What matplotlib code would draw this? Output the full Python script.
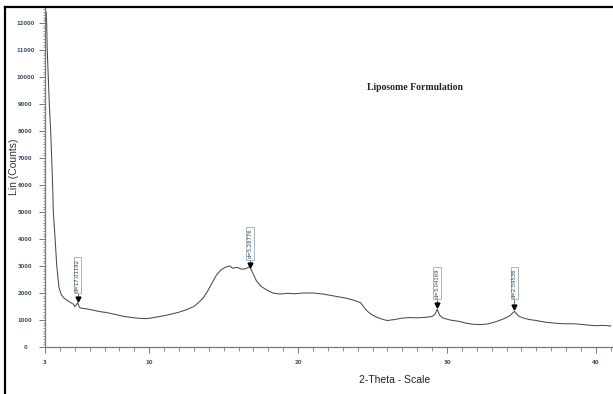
import matplotlib

matplotlib.use("Agg")
import matplotlib.pyplot as plt
import matplotlib.ticker as ticker
from matplotlib.lines import Line2D

# ===================== DATA =====================
two_theta = [
    3.08, 3.11, 3.15, 3.22, 3.29, 3.38, 3.45, 3.51, 3.56, 3.68, 3.79, 3.94,
    4.1, 4.3, 4.45, 4.7, 4.9, 5.0, 5.1, 5.2, 5.3, 5.4, 5.7, 6.0, 6.2, 6.5,
    6.8, 7.1, 7.35, 7.6, 7.9, 8.3, 8.6, 9.0, 9.4, 9.8, 10.2, 10.6, 11.0,
    11.5, 12.0, 12.5, 13.0, 13.3, 13.6, 13.9, 14.2, 14.5, 14.8, 15.1, 15.4,
    15.6, 15.9, 16.2, 16.5, 16.75, 16.9, 17.2, 17.5, 17.9, 18.3, 18.8, 19.3,
    19.8, 20.3, 21.0, 21.7, 22.3, 22.8, 23.3, 23.8, 24.2, 24.5, 24.7, 25.0,
    25.3, 25.7, 26.0, 26.5, 27.0, 27.5, 28.0, 28.6, 29.0, 29.2, 29.34, 29.5,
    29.7, 30.2, 30.8, 31.3, 31.8, 32.3, 32.8, 33.3, 33.8, 34.2, 34.53, 34.8,
    35.1, 35.5, 36.0, 36.6, 37.3, 37.9, 38.5, 39.0, 39.5, 40.0, 40.5, 41.0,
]
counts = [
    12400, 12000, 11000, 10000, 9000, 8000, 7000, 6000, 5000, 4000, 3000, 2200,
    1930, 1800, 1740, 1650, 1590, 1500, 1560, 1640, 1480, 1440, 1420, 1390, 1370, 1330,
    1300, 1280, 1250, 1220, 1185, 1130, 1110, 1080, 1060, 1050, 1080, 1120, 1160,
    1220, 1290, 1380, 1500, 1640, 1800, 2050, 2350, 2650, 2850, 2950, 3000,
    2920, 2950, 2880, 2900, 2980, 2800, 2450, 2250, 2110, 2000, 1960, 1990,
    1970, 2000, 2000, 1960, 1900, 1850, 1800, 1720, 1640, 1420, 1300, 1180,
    1100, 1020, 980, 1020, 1070, 1090, 1080, 1100, 1130, 1220, 1400, 1180,
    1080, 1000, 950, 880, 840, 830, 860, 940, 1040, 1150, 1320, 1150,
    1080, 1020, 980, 920, 880, 860, 860, 840, 810, 790, 800, 780,
]

# peak markers (d-spacings)
peak_pos = [5.19, 16.78, 29.34, 34.53]
peak_labels = ["d=17.01192", "d=5.28776", "d=3.04169", "d=2.59536"]
peak_tip = [1700, 2990, 1490, 1430]
peak_box = [(2000, 3330), (3220, 4440), (1740, 2970), (1740, 2970)]

xticks = [3, 10, 20, 30, 40]
xtick_labels = ["3", "10", "20", "30", "40"]
yticks = list(range(0, 12001, 1000))
# ================================================

W, H = 613, 394
fig = plt.figure(figsize=(W / 100, H / 100), dpi=100)
fig.patch.set_facecolor("white")
ax = fig.add_axes([45 / W, 1 - 347 / H, 1 - 45 / W, (347 - 8) / H])

ax.plot(two_theta, counts, color="#4a4a4a", linewidth=0.75)

for x, lab, tip, (b0, b1) in zip(peak_pos, peak_labels, peak_tip, peak_box):
    ax.plot([x, x], [tip, b0], color="#555555", linewidth=0.6)
    ax.plot(x, tip + 60, marker="v", markersize=3.5, color="black", linestyle="none")
    ax.text(
        x, (b0 + b1) / 2, lab,
        rotation=90, ha="center", va="center",
        fontsize=3.8, color="#334455",
        bbox=dict(boxstyle="square,pad=0.25", fc="white", ec="#9aaab5", lw=0.6),
    )

ax.set_xlim(3, 41.15)
ax.set_ylim(0, 12555)

ax.spines["top"].set_visible(False)
ax.spines["right"].set_visible(False)
for s in ("left", "bottom"):
    ax.spines[s].set_color("#777777")
    ax.spines[s].set_linewidth(0.9)

ax.set_xticks(xticks)
ax.set_xticklabels(xtick_labels)
ax.xaxis.set_minor_locator(ticker.MultipleLocator(1))
ax.set_yticks(yticks)
ax.yaxis.set_minor_locator(ticker.MultipleLocator(100))

ax.tick_params(axis="x", which="major", length=4.3, width=0.7, color="#777777",
               labelsize=4, labelcolor="#445566", pad=5)
ax.tick_params(axis="x", which="minor", length=2.9, width=0.6, color="#777777")
ax.tick_params(axis="y", which="major", length=4.3, width=0.7, color="#777777",
               labelsize=3.8, labelcolor="#445566", pad=10)
ax.tick_params(axis="y", which="minor", length=1.6, width=0.5, color="#777777")
for t in ax.get_yticklabels():
    t.set_horizontalalignment("center")
    t.set_fontweight("bold")
for t in ax.get_xticklabels():
    t.set_fontweight("bold")

fig.text(14 / W, 1 - 167 / H, "Lin (Counts)", rotation=90, ha="center", va="center",
         fontsize=7.5, color="#333333", family="Liberation Sans")
fig.text(395 / W, 1 - 380 / H, "2-Theta - Scale", ha="center", va="center",
         fontsize=7.5, color="#222222", family="Liberation Sans")
fig.text(415 / W, 1 - 88 / H, "Liposome Formulation", ha="center", va="center",
         fontsize=7, fontweight="bold", color="#222222", family="Liberation Serif")

# outer frame (top and left only)
fig.add_artist(Line2D([5 / W, 1], [1 - 7 / H, 1 - 7 / H], transform=fig.transFigure,
                      color="black", linewidth=1.6))
fig.add_artist(Line2D([5 / W, 5 / W], [0, 1 - 7 / H], transform=fig.transFigure,
                      color="black", linewidth=1.6))

fig.savefig("out.png", dpi=100, facecolor="white")
